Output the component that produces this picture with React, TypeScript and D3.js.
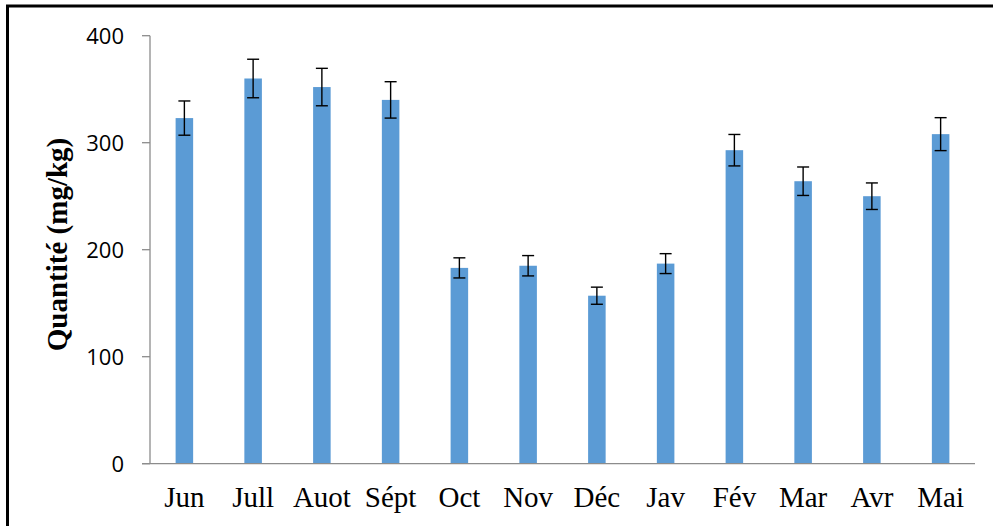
import React from "react";
import * as d3 from "d3";

const categories = ["Jun", "Jull", "Auot", "Sépt", "Oct", "Nov", "Déc", "Jav", "Fév", "Mar", "Avr", "Mai"];
const values = [323, 360, 352, 340, 183, 185, 157, 187, 293, 264, 250, 308];
const errors = [16, 18, 17.5, 17, 9.4, 9.5, 8, 9.3, 14.7, 13.3, 12.4, 15.4];
const yTicks = [0, 100, 200, 300, 400];
const yTitle = "Quantité (mg/kg)";

const W = 993;
const H = 526;
const plotLeft = 150;
const plotRight = 975;
const plotTop = 35.7;
const plotBottom = 463.7;

export default function App() {
  const x = d3.scaleBand<string>().domain(categories).range([plotLeft, plotRight]).paddingInner(0.745).paddingOuter(0.3725);
  const y = d3.scaleLinear().domain([0, 400]).range([plotBottom, plotTop]);
  const axisColor = "#8c8c8c";
  const capHalf = 6;

  return (
    <svg width={W} height={H} style={{ position: "absolute", left: 0, top: 0 }}>
      <rect x={0} y={0} width={W} height={H} fill="#ffffff" />
      <rect x={7.5} y={6} width={1100} height={700} fill="none" stroke="#000" strokeWidth={3} />
      {/* y axis */}
      <line x1={plotLeft} x2={plotLeft} y1={y(400)} y2={y(0)} stroke={axisColor} strokeWidth={1.3} />
      {yTicks.map((t) => (
        <g key={t}>
          <line x1={plotLeft - 8} x2={plotLeft} y1={y(t)} y2={y(t)} stroke={axisColor} strokeWidth={1.3} />
          <text
            x={124}
            y={y(t) + 8}
            textAnchor="end"
            fontFamily="'Open Sans', sans-serif"
            fontSize={22}
            fill="#000"
          >
            {t}
          </text>
        </g>
      ))}
      {/* bars */}
      {categories.map((c, i) => (
        <rect
          key={c}
          x={x(c)!}
          y={y(values[i])}
          width={x.bandwidth()}
          height={y(0) - y(values[i])}
          fill="#5B9BD5"
        />
      ))}
      {/* x axis line */}
      <line x1={plotLeft - 8} x2={plotRight} y1={y(0)} y2={y(0)} stroke={axisColor} strokeWidth={1.3} />
      {/* error bars */}
      {categories.map((c, i) => {
        const cx = x(c)! + x.bandwidth() / 2;
        const top = y(values[i] + errors[i]);
        const bot = y(values[i] - errors[i]);
        return (
          <g key={"e" + c} stroke="#000" strokeWidth={1.4}>
            <line x1={cx} x2={cx} y1={top} y2={bot} />
            <line x1={cx - capHalf} x2={cx + capHalf} y1={top} y2={top} />
            <line x1={cx - capHalf} x2={cx + capHalf} y1={bot} y2={bot} />
          </g>
        );
      })}
      {/* x labels */}
      {categories.map((c) => (
        <text
          key={"l" + c}
          x={x(c)! + x.bandwidth() / 2}
          y={507}
          textAnchor="middle"
          fontFamily="'Liberation Serif', 'Times New Roman', serif"
          fontSize={29}
          fill="#000"
        >
          {c}
        </text>
      ))}
      {/* y title */}
      <text
        transform={`translate(67, 244.5) rotate(-90)`}
        textAnchor="middle"
        fontFamily="'Liberation Serif', 'Times New Roman', serif"
        fontWeight="bold"
        fontSize={29}
        fill="#000"
      >
        {yTitle}
      </text>
    </svg>
  );
}
